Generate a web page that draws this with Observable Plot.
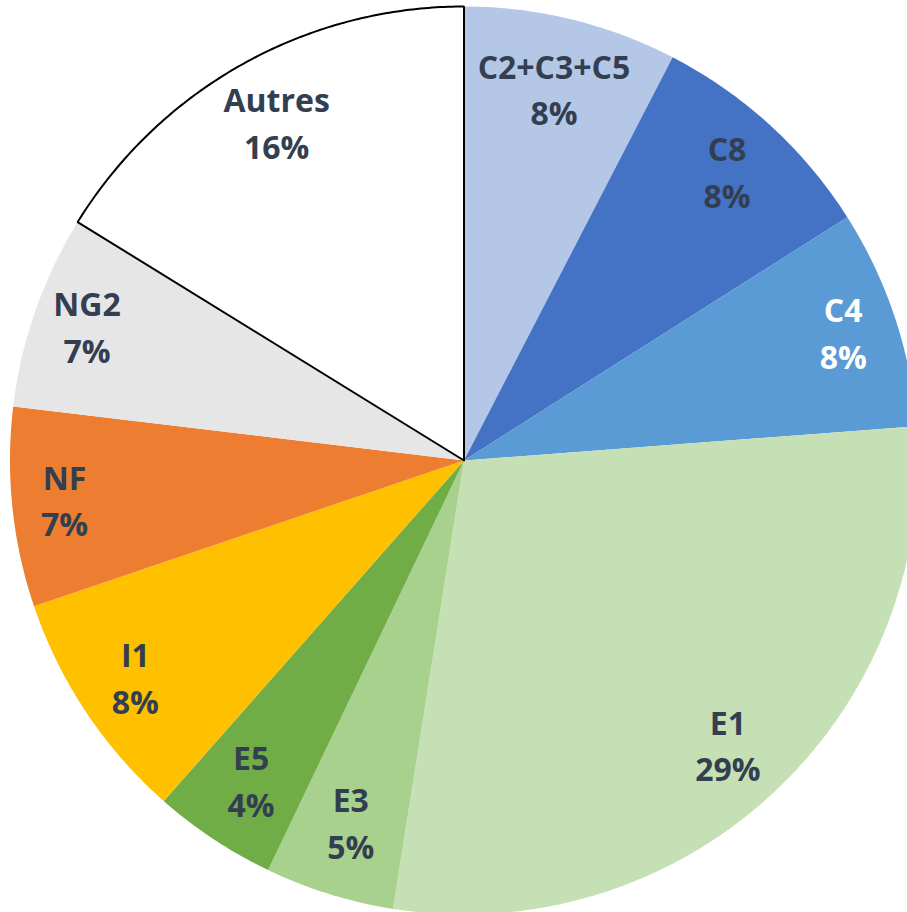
<!DOCTYPE html>
<html>
<head>
<meta charset="utf-8">
<script src="https://cdn.jsdelivr.net/npm/d3@7"></script>
<script src="https://cdn.jsdelivr.net/npm/@observablehq/plot@0.6"></script>
<style>
  html, body { margin: 0; padding: 0; background: #ffffff; }
  #chart { width: 907px; height: 912px; overflow: hidden; }
</style>
</head>
<body>
<div id="chart"></div>
<script>
// Slices, clockwise from 12 o'clock
const categories = ["C2+C3+C5", "C8", "C4", "E1", "E3", "E5", "I1", "NF", "NG2", "Autres"];
const shares = [7.6, 8.4, 7.8, 28.7, 4.6, 4.4, 8.3, 7.1, 6.9, 16.2];
const pctLabels = ["8%", "8%", "8%", "29%", "5%", "4%", "8%", "7%", "7%", "16%"];
const sliceColors = ["#B4C7E7", "#4472C4", "#5B9BD5", "#C5E0B4", "#A9D18E", "#70AD47", "#FFC000", "#ED7D31", "#E7E6E6", "#FFFFFF"];
const labelColors = ["#333F50", "#333F50", "#FFFFFF", "#333F50", "#333F50", "#333F50", "#333F50", "#333F50", "#333F50", "#333F50"];

const W = 907, H = 912;
const R = 454, CX = 463.5, CY = 460;

const total = d3.sum(shares);
const points = [];
const labels = [];
const outline = [];
let start = 0;
categories.forEach((name, i) => {
  const a0 = start * 2 * Math.PI / total;
  const a1 = (start + shares[i]) * 2 * Math.PI / total;
  start += shares[i];
  const pts = [{name, x: 0, y: 0}];
  const n = Math.max(2, Math.ceil((a1 - a0) / (Math.PI / 360)));
  for (let k = 0; k <= n; k++) {
    const a = a0 + (a1 - a0) * k / n;
    pts.push({name, x: Math.sin(a), y: Math.cos(a)});
  }
  pts.push({name, x: 0, y: 0});
  points.push(...pts);
  if (name === "Autres") outline.push(...pts);
  const am = (a0 + a1) / 2;
  // labels sit a little further out near 3 and 9 o'clock (best-fit style)
  const lr = 0.835 + 0.05 * Math.sin(am) ** 2;
  labels.push({name, text: name + "\n" + pctLabels[i], x: lr * Math.sin(am), y: lr * Math.cos(am), color: labelColors[i]});
});

const chart = Plot.plot({
  width: W,
  height: H,
  margin: 0,
  x: {domain: [-CX / R, (W - CX) / R], axis: null},
  y: {domain: [-(H - CY) / R, CY / R], axis: null},
  color: {domain: categories, range: sliceColors},
  style: {background: "#ffffff", fontFamily: "'Open Sans', sans-serif"},
  marks: [
    Plot.line(points, {x: "x", y: "y", z: "name", fill: "name", stroke: "none"}),
    Plot.line(outline, {x: "x", y: "y", stroke: "#000000", strokeWidth: 2, strokeLinejoin: "miter"}),
    Plot.text(labels.filter(d => d.color !== "#FFFFFF"), {x: "x", y: "y", text: "text", fill: "#333F50", fontSize: 32, fontWeight: 700, lineHeight: 1.46, dy: -4}),
    Plot.text(labels.filter(d => d.color === "#FFFFFF"), {x: "x", y: "y", text: "text", fill: "#FFFFFF", fontSize: 32, fontWeight: 700, lineHeight: 1.46, dy: -4})
  ]
});
document.getElementById("chart").appendChild(chart);
</script>
</body>
</html>
